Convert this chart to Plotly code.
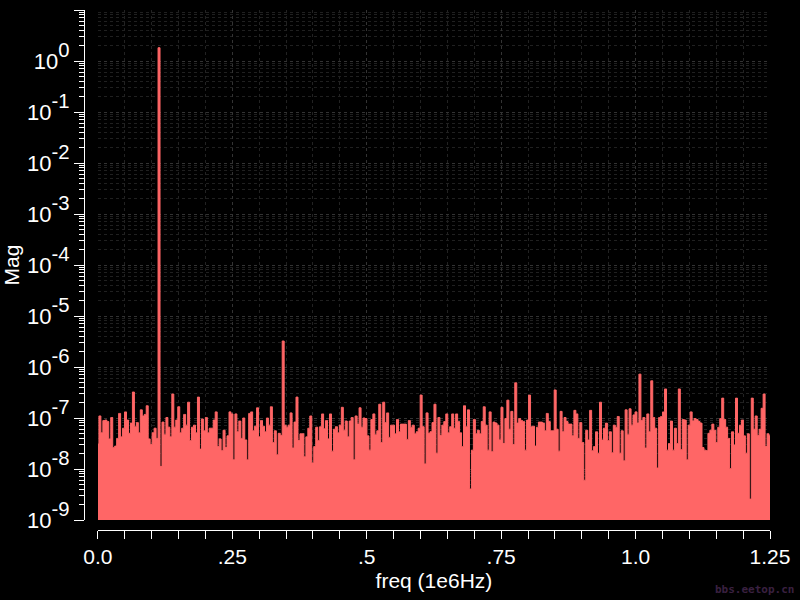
import numpy as np
import plotly.graph_objects as go

# Spectrum magnitude, stored as log10(Mag) left to right
mag_exp_a = [-7.51, -6.96, -7.29, -7.05, -7.04, -7.07, -7.41, -6.99, -7.58, -7.55, -7.40, -6.91,
             -7.37, -7.20, -6.88, -7.04, -7.30, -7.10, -6.49, -7.17, -7.09, -7.29, -6.84, -6.96,
             -6.93, -6.76, -7.41, -7.52, -7.29, -7.20, -7.40, 0.26, -7.95, -7.08, -7.33, -6.99,
             -7.18, -7.37, -6.53, -7.18, -7.04, -6.78, -7.29, -7.20, -6.93, -7.14, -6.69, -7.44,
             -7.18, -7.14, -7.29, -6.59, -7.61, -7.02, -7.25, -6.99, -7.29, -7.20, -7.20, -7.04,
             -6.88, -7.56, -7.41, -7.64, -7.24, -7.58, -7.35, -6.88]
mag_exp_b = [-6.92, -7.82, -6.92, -7.27, -7.06, -7.40, -7.00, -7.43, -7.82, -6.91, -6.88, -7.25,
             -7.16, -6.80, -7.37, -7.05, -7.16, -7.27, -7.00, -7.14, -6.78, -7.48, -7.25, -7.72,
             -7.30, -7.34, -5.49, -7.14, -7.18, -7.14, -6.90, -7.59, -7.08, -6.59, -7.44, -7.31,
             -7.31, -7.76, -7.37, -7.20, -6.96, -7.88, -7.56, -7.18, -7.44, -7.17, -6.92, -7.21,
             -7.05, -7.41, -6.92, -7.65, -7.22, -7.17, -7.29, -7.14, -6.79, -7.24, -7.06, -7.37,
             -7.06, -6.99, -7.82, -6.96, -7.12, -6.80, -7.18, -7.00]
mag_exp_c = [-7.01, -7.35, -7.63, -7.03, -6.92, -7.33, -7.25, -6.73, -7.48, -6.69, -7.09, -6.90,
             -7.38, -7.14, -7.14, -7.31, -7.03, -7.27, -7.12, -7.12, -7.12, -7.42, -7.05, -7.18,
             -7.14, -7.31, -7.27, -7.20, -6.55, -7.17, -7.90, -6.90, -7.30, -7.27, -7.09, -6.73,
             -7.69, -6.99, -7.34, -7.14, -7.07, -6.92, -7.29, -7.17, -6.92, -7.20, -6.92, -7.07,
             -7.29, -7.56, -6.76, -7.17, -6.84, -8.39, -7.63, -7.03, -7.31, -7.24, -7.31, -7.07,
             -6.78, -7.14, -7.63, -6.88, -7.66, -7.08, -7.10, -7.14]
mag_exp_d = [-7.43, -6.79, -7.50, -7.01, -6.65, -7.22, -6.87, -7.52, -6.31, -7.10, -7.01, -7.05,
             -7.07, -7.63, -7.04, -6.55, -7.17, -7.16, -7.55, -7.18, -7.08, -7.08, -7.10, -7.25,
             -6.91, -7.07, -7.25, -7.25, -6.45, -7.22, -7.65, -6.87, -7.27, -6.99, -7.07, -7.12,
             -7.12, -7.35, -6.85, -6.92, -7.40, -7.09, -7.48, -8.22, -7.24, -7.43, -6.85, -7.64,
             -7.56, -7.27, -7.69, -6.69, -7.43, -7.20, -7.10, -7.44, -7.27, -7.68, -7.14, -7.18,
             -6.97, -7.69, -7.25, -7.84, -6.84, -7.33, -6.82, -7.14, -6.94]
mag_exp_e = [-6.88, -7.10, -6.14, -7.05, -6.99, -7.59, -6.92, -7.27, -6.27, -6.99, -7.20, -7.98,
             -6.99, -6.97, -6.88, -6.43, -7.63, -7.50, -7.06, -7.63, -7.20, -7.50, -6.43, -7.62,
             -7.03, -7.04, -7.82, -7.14, -6.88, -7.06, -7.01, -7.03, -7.07, -7.10, -7.58, -7.63,
             -7.64, -7.30, -7.24, -7.12, -7.24, -7.48, -7.18, -7.01, -6.61, -7.03, -7.18, -7.40,
             -7.99, -7.27, -7.53, -6.61, -7.30, -7.14, -7.04, -7.35, -7.69, -7.31, -8.59, -6.61,
             -7.22, -6.96, -7.34, -7.22, -6.81, -6.53, -7.56, -7.31, -7.35]

freq_min, freq_max = 0.0, 1.25
x_tickvals = [0.0, 0.25, 0.5, 0.75, 1.0, 1.25]
x_ticktext = ["0.0", ".25", ".5", ".75", "1.0", "1.25"]
y_decades = list(range(-9, 2))
y_ticktext = ["10<span style='font-size:29px'><sup>%d</sup></span>" % d for d in y_decades]

mag_exp = mag_exp_a + mag_exp_b + mag_exp_c + mag_exp_d + mag_exp_e
mag = [10 ** e for e in mag_exp]
freq = np.linspace(freq_min, freq_max, len(mag))
floor = [10 ** y_decades[0]] * len(mag)

FILL = "#FF6666"
FONT = "Liberation Sans, Arial, sans-serif"

fig = go.Figure()
fig.add_trace(go.Scatter(x=freq, y=floor, mode="lines", line=dict(width=0, color=FILL),
                         hoverinfo="skip", showlegend=False))
fig.add_trace(go.Scatter(x=freq, y=mag, mode="lines", line=dict(width=1, color=FILL, shape="hvh"),
                         fill="tonexty", fillcolor=FILL, showlegend=False))

W, H = 800, 600
ml, mr, mt, mb = 80, 29, 10, 70
pw, ph = W - ml - mr, H - mt - mb

fig.update_layout(
    width=W, height=H,
    margin=dict(l=ml, r=mr, t=mt, b=mb, pad=0),
    paper_bgcolor="black", plot_bgcolor="black",
    font=dict(family=FONT, color="white", size=20),
    xaxis=dict(
        domain=[(96 - ml) / pw, 1], range=[freq_min, freq_max],
        anchor="free", position=0,
        showline=True, linecolor="white", linewidth=1,
        ticks="outside", ticklen=8, tickcolor="white",
        tickvals=x_tickvals, ticktext=x_ticktext,
        tickfont=dict(size=21, family=FONT),
        showgrid=True, gridcolor="#333333", griddash="dot", gridwidth=1,
        minor=dict(dtick=0.05, tick0=0, ticks="outside", ticklen=8, tickcolor="white",
                   showgrid=True, gridcolor="#222222", griddash="dot"),
        zeroline=False,
        title=dict(text="freq (1e6Hz)", font=dict(size=21, family=FONT), standoff=6),
    ),
    yaxis=dict(
        type="log", domain=[(530 - 520) / ph, 1], range=[-9, 1],
        anchor="free", position=(82 - ml) / pw,
        showline=True, linecolor="white", linewidth=1,
        ticks="outside", ticklen=10, tickcolor="white",
        tickvals=[10 ** d for d in y_decades], ticktext=y_ticktext,
        tickfont=dict(size=22, family=FONT),
        showgrid=True, gridcolor="#333333", griddash="dot", gridwidth=1,
        minor=dict(dtick="D1", ticks="outside", ticklen=5, tickcolor="white",
                   showgrid=True, gridcolor="#202020", griddash="dot"),
        zeroline=False,
        title=dict(text="Mag", font=dict(size=21, family=FONT), standoff=2),
    ),
)

fig.add_annotation(text="<b>bbs.eetop.cn</b>", xref="paper", yref="paper",
                   x=(797 - ml) / pw, y=-(598 - 530) / ph,
                   xanchor="right", yanchor="bottom", showarrow=False,
                   font=dict(size=11, color="#3a2040", family="DejaVu Sans Mono"))

fig.write_html("out.html", config={"displayModeBar": False},
               post_script="document.body.style.margin='0';document.body.style.background='black';")
